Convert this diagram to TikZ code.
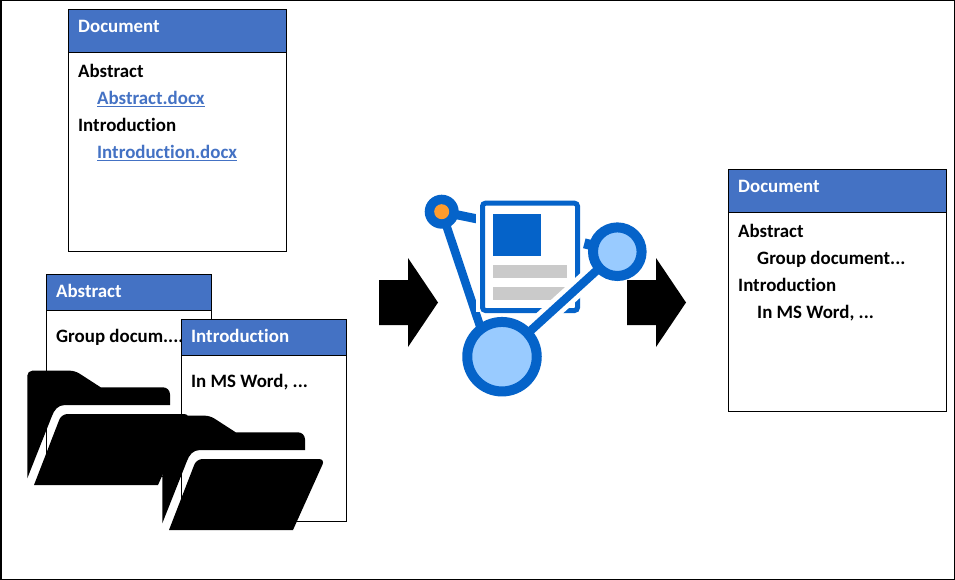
\documentclass[tikz,border=0pt]{standalone}
\usepackage{fontspec}
\setmainfont{Carlito}[Ligatures=CommonOff]
\definecolor{headblue}{HTML}{4472C4}
\definecolor{iconblue}{HTML}{0563C9}
\definecolor{iconlight}{HTML}{99CBFF}
\definecolor{icongrey}{HTML}{CACACA}
\definecolor{iconorange}{HTML}{FF9C2E}
\pgfdeclarelayer{paper}
\pgfdeclarelayer{iconlow}
\pgfdeclarelayer{iconmid}
\pgfsetlayers{paper,iconlow,iconmid,main}
\tikzset{
  x=1pt, y=-1pt,
  sheet/.style={draw=black, line width=1pt, fill=white},
  headbar/.style={draw=black, line width=1pt, fill=headblue},
  labeltext/.style={anchor=base west, inner sep=0pt, font=\fontsize{18.9}{22}\selectfont\bfseries},
  headtext/.style={labeltext, text=white},
  bodytext/.style={labeltext, text=black},
  linktext/.style={labeltext, text=headblue},
  blockarrow/.style={fill=black, draw=none},
  hub/.style={circle, draw=iconblue, fill=iconlight, line width=10pt, inner sep=0pt},
  spoke/.style={draw=iconblue, line width=8.5pt},
  halo/.style={draw=white, line width=18pt},
}
% One open folder; the arguments shift it from its base position.
\newcommand{\folderat}[2]{%
  \begin{scope}[shift={(#1,#2)}]
    \fill[black] (27.3,478.3) [rounded corners=5pt] -- (27.3,370.7) -- (75,370.7)
      [sharp corners] -- (100.7,387.3)
      [rounded corners=7pt] -- (170,387.3) [sharp corners] -- (170,405)
      -- (65,405) .. controls (58,405) and (54,410) .. (51.7,416.7) -- cycle;
    \fill[black] (34,485) [rounded corners=6pt] -- (61.5,414) -- (190,414)
      [sharp corners] -- (158,485) -- cycle;
  \end{scope}}
\begin{document}
\begin{tikzpicture}
  \useasboundingbox (0,0) rectangle (955,580);
  \begin{pgfonlayer}{paper}
    \draw[black, line width=1.5pt, fill=white] (0.75,0.75) rectangle (954.25,579.25);
  \end{pgfonlayer}

  % outline document
  \draw[sheet] (68.5,9.7) rectangle (286.5,251);
  \draw[headbar] (68.5,9.7) rectangle (286.5,52.3);
  \node[headtext] (outlinetitle) at (78,32.5) {Document};
  \node[bodytext] (outlineabs) at (78,77.5) {Abstract};
  \node[linktext] (outlineabslink) at (97,104.5) {\underline{Abstract.docx}};
  \node[bodytext] (outlineintro) at (78,131.5) {Introduction};
  \node[linktext] (outlineintrolink) at (97,158.5) {\underline{Introduction.docx}};

  % section files
  \draw[sheet] (46.5,274.7) rectangle (211.5,476);
  \draw[headbar] (46.5,274.7) rectangle (211.5,310);
  \node[headtext] (abstitle) at (56,297.5) {Abstract};
  \node[bodytext] (absbody) at (56,342.5) {Group docum....};
  \draw[sheet] (181.7,319.7) rectangle (346.3,521.5);
  \draw[headbar] (181.7,319.7) rectangle (346.3,355);
  \node[headtext] (introtitle) at (191,342.5) {Introduction};
  \node[bodytext] (introbody) at (191,387.5) {In MS Word, ...};

  % folders
  \folderat{0}{0}
  \folderat{135}{45}

  % merged document
  \draw[sheet] (728.5,169.7) rectangle (946.5,411);
  \draw[headbar] (728.5,169.7) rectangle (946.5,212.3);
  \node[headtext] (mergedtitle) at (738,192.5) {Document};
  \node[bodytext] (mergedabs) at (738,237.5) {Abstract};
  \node[bodytext] (mergedabsbody) at (757,264.5) {Group document...};
  \node[bodytext] (mergedintro) at (738,291.5) {Introduction};
  \node[bodytext] (mergedintrobody) at (757,318.5) {In MS Word, ...};

  % block arrows
  \fill[blockarrow] (379,280) -- (408,280) -- (408,258) -- (438,302.5) -- (408,347) -- (408,325) -- (379,325) -- cycle;
  \fill[blockarrow] (627,280) -- (656,280) -- (656,258) -- (686,302.5) -- (656,347) -- (656,325) -- (627,325) -- cycle;

  % merge icon: hubs
  \node[hub, minimum size=48.6pt] (hubright) at (617.3,251.7) {};
  \node[hub, minimum size=69.5pt] (hubbig) at (502,356.7) {};
  \node[circle, fill=iconblue, inner sep=0pt, minimum size=34pt] (hubsmall) at (441.7,211.7) {};
  \fill[iconorange] (hubsmall.center) circle (7.5);
  \coordinate (leftfoot) at (483,335);
  \coordinate (pageleft) at (480,219.5);
  \coordinate (pageright) at (584.3,243.3);

  % merge icon: spokes behind the page
  \begin{pgfonlayer}{iconlow}
    \draw[spoke] (hubsmall.center) -- (leftfoot);
    \draw[iconblue, line width=9pt] (hubsmall.center) -- (pageleft);
  \end{pgfonlayer}

  % merge icon: page, with the spoke to the large hub cut through it
  \begin{pgfonlayer}{iconmid}
    \fill[white] (475.7,195) rectangle (480,312);
    \draw[iconblue, line width=5pt, fill=white, rounded corners=3pt] (482.5,203.2) rectangle (577.5,310.5);
    \fill[iconblue] (492.7,213.7) rectangle (540.7,256);
    \fill[icongrey] (492.7,265.3) rectangle (566.7,278.3);
    \fill[icongrey] (492.7,287.3) rectangle (566.7,300.3);
    \draw[halo] (hubright.center) -- (hubbig.center);
    \draw[spoke] (hubright.center) -- (hubbig.center);
    \draw[iconblue, line width=10pt] (pageright) -- (hubright.center);
  \end{pgfonlayer}
\end{tikzpicture}
\end{document}
